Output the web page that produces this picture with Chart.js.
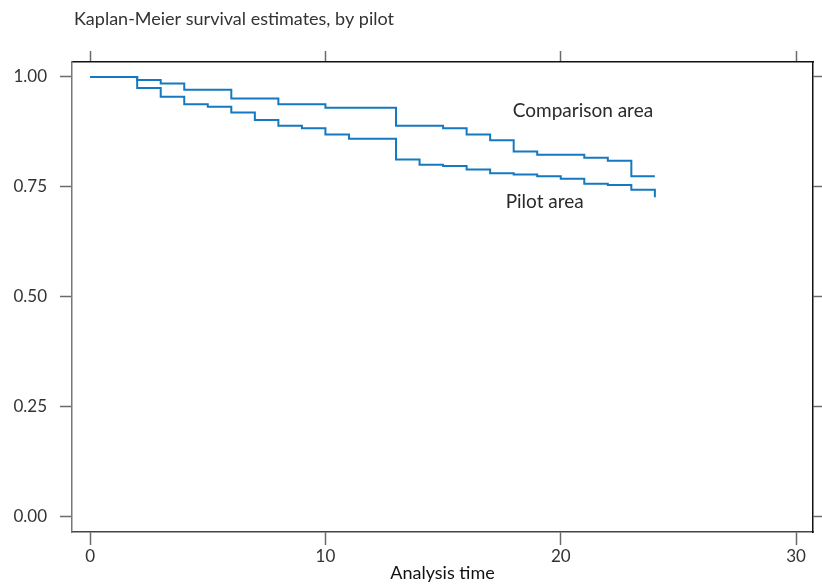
<!DOCTYPE html>
<html>
<head>
<meta charset="utf-8">
<script src="https://cdn.jsdelivr.net/npm/chart.js@4.4.1/dist/chart.umd.min.js"></script>
<style>
  html, body { margin: 0; padding: 0; background: #fff; }
  #wrap { width: 822px; height: 584px; position: relative; }
</style>
</head>
<body>
<div id="wrap"><canvas id="km"></canvas></div>
<script>
// Kaplan-Meier step estimates, time in months
const compTimes = [0, 2, 3, 4, 6, 8, 10, 13, 15, 16, 17, 18, 19, 21, 22, 23, 24];
const compSurv  = [1.000, 0.993, 0.985, 0.971, 0.951, 0.938, 0.930, 0.889, 0.883, 0.869, 0.856, 0.830, 0.823, 0.816, 0.809, 0.774, 0.774];

const pilotTimes = [0, 2, 3, 4, 5, 6, 7, 8, 9, 10, 11, 13, 14, 15, 16, 17, 18, 19, 20, 21, 22, 23, 24];
const pilotSurv  = [1.000, 0.975, 0.955, 0.938, 0.932, 0.919, 0.902, 0.889, 0.883, 0.869, 0.859, 0.812, 0.800, 0.797, 0.789, 0.781, 0.778, 0.774, 0.768, 0.757, 0.754, 0.743, 0.726];

const xTicks = [0, 10, 20, 30];
const yTicks = [0, 0.25, 0.5, 0.75, 1];

const seriesLabels = ['Comparison area', 'Pilot area'];
// where each curve's label sits, in data units
const labelPos = [{ x: 17.96, y: 0.923 }, { x: 17.66, y: 0.716 }];

const FONT = 'Lato, "Open Sans", sans-serif';
const LINE = '#1479c0';
const TICK = '#6a6a6a';

const X_MIN = -0.77, X_MAX = 30.72;
const Y_MIN = -0.036, Y_MAX = 1.034;

const toPoints = (ts, ss) => ts.map((t, i) => ({ x: t, y: ss[i] }));

const fixedTicks = list => scale => { scale.ticks = list.map(v => ({ value: v })); };

const textPlugin = {
    id: 'kmText',
    afterDraw(chart) {
        const { ctx, chartArea, scales } = chart;
        ctx.save();
        ctx.textBaseline = 'middle';
        ctx.textAlign = 'left';
        ctx.fillStyle = '#333';
        ctx.font = '18px ' + FONT;
        ctx.fillText('Kaplan-Meier survival estimates, by pilot', chartArea.left + 2, 19);

        ctx.fillStyle = '#2a2a2a';
        ctx.font = '19px ' + FONT;
        seriesLabels.forEach((txt, i) => {
            ctx.fillText(txt, scales.x.getPixelForValue(labelPos[i].x), scales.y.getPixelForValue(labelPos[i].y));
        });
        ctx.restore();
    }
};

const tickFont = { family: FONT, size: 17 };

const stepLine = (label, pts) => ({
    label,
    data: pts,
    borderColor: LINE,
    borderWidth: 2,
    pointRadius: 0,
    stepped: 'before',
    fill: false
});

new Chart(document.getElementById('km').getContext('2d'), {
    type: 'line',
    data: {
        datasets: [
            stepLine(seriesLabels[0], toPoints(compTimes, compSurv)),
            stepLine(seriesLabels[1], toPoints(pilotTimes, pilotSurv))
        ]
    },
    options: {
        responsive: true,
        maintainAspectRatio: false,
        animation: false,
        layout: { padding: 0 },
        plugins: {
            legend: { display: false },
            tooltip: { enabled: false },
            title: { display: false }
        },
        scales: {
            x: {
                type: 'linear',
                position: 'bottom',
                min: X_MIN,
                max: X_MAX,
                afterBuildTicks: fixedTicks(xTicks),
                afterFit: s => { s.height = 52; },
                grid: { drawOnChartArea: false, tickLength: 13, color: TICK, tickWidth: 1.5 },
                border: { color: '#444', width: 1.5 },
                ticks: { color: '#333', font: tickFont, padding: 1, maxRotation: 0 },
                title: {
                    display: true,
                    text: 'Analysis time',
                    color: '#111',
                    font: { family: FONT, size: 18 },
                    padding: { top: 0, bottom: 0 }
                }
            },
            x2: {
                type: 'linear',
                position: 'top',
                min: X_MIN,
                max: X_MAX,
                afterBuildTicks: fixedTicks(xTicks),
                afterFit: s => { s.height = 62; },
                grid: { drawOnChartArea: false, tickLength: 11, color: TICK, tickWidth: 1.5 },
                border: { color: '#111', width: 1.5 },
                ticks: { display: false }
            },
            y: {
                type: 'linear',
                position: 'left',
                min: Y_MIN,
                max: Y_MAX,
                afterBuildTicks: fixedTicks(yTicks),
                afterFit: s => { s.width = 72; },
                grid: { drawOnChartArea: false, tickLength: 12, color: TICK, tickWidth: 1.5 },
                border: { color: '#777', width: 1.5 },
                ticks: {
                    color: '#333',
                    font: tickFont,
                    padding: 13,
                    callback: v => v.toFixed(2)
                }
            },
            y2: {
                type: 'linear',
                position: 'right',
                min: Y_MIN,
                max: Y_MAX,
                afterBuildTicks: fixedTicks(yTicks),
                afterFit: s => { s.width = 9; },
                grid: { drawOnChartArea: false, tickLength: 9, color: TICK, tickWidth: 1.5 },
                border: { color: '#111', width: 1.5 },
                ticks: { display: false }
            }
        }
    },
    plugins: [textPlugin]
});
</script>
</body>
</html>
